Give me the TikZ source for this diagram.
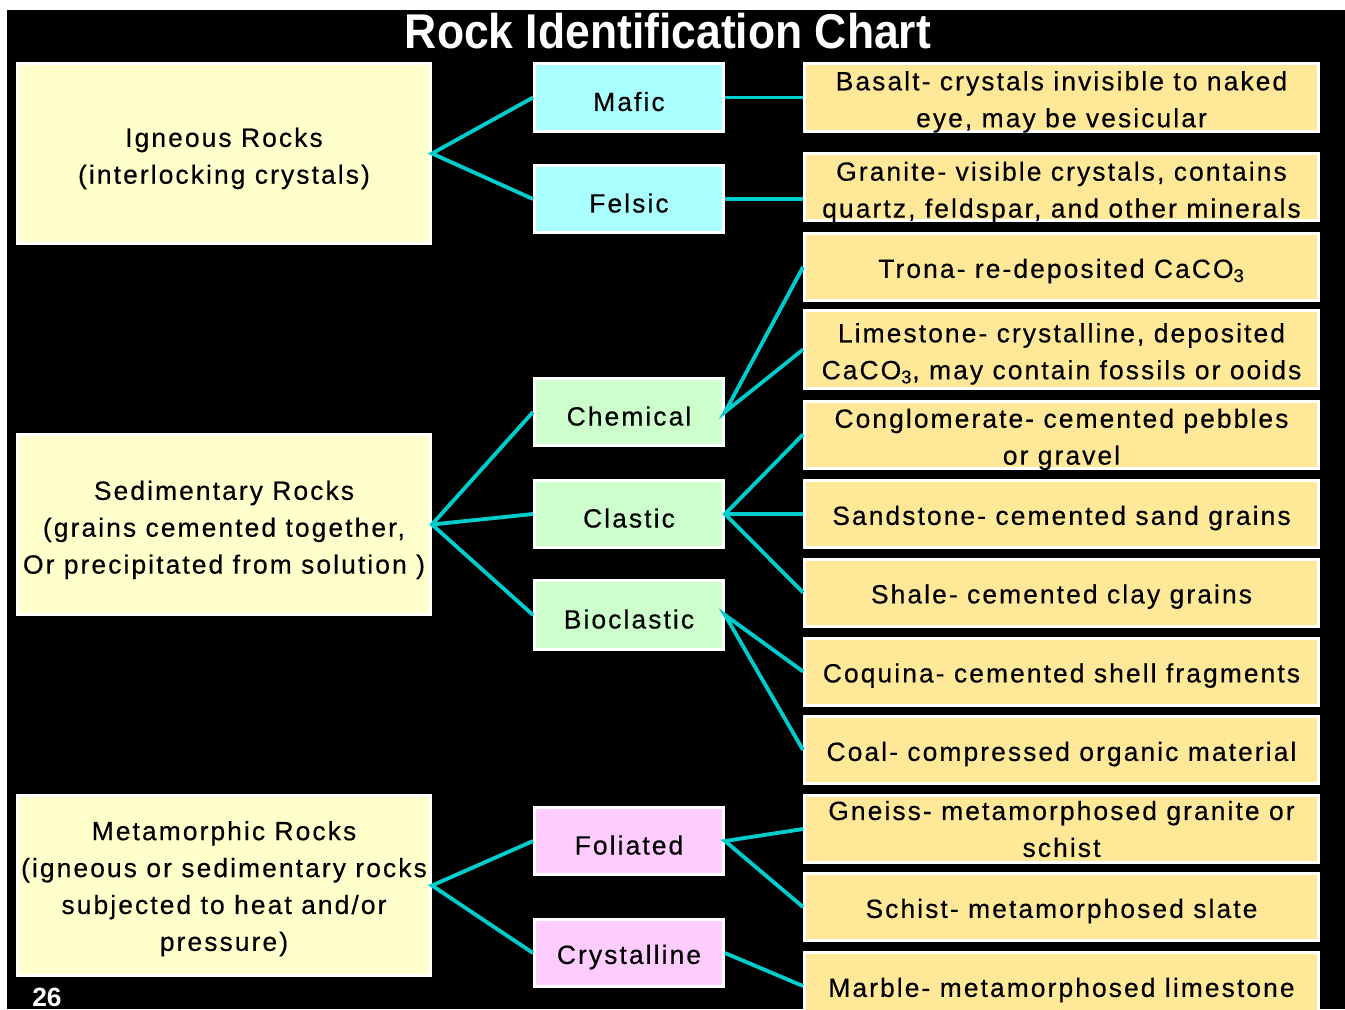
\documentclass[tikz,border=0pt]{standalone}
\usepackage{fontspec}
\setmainfont{Liberation Sans}[LetterSpace=8,FakeBold=0.5]
\newfontfamily\titlefont{Liberation Sans}
\usetikzlibrary{positioning}
\definecolor{rockcream}{RGB}{255,255,204}
\definecolor{maficcyan}{RGB}{170,255,255}
\definecolor{sedgreen}{RGB}{204,255,204}
\definecolor{metpink}{RGB}{255,204,255}
\definecolor{descyellow}{RGB}{255,233,153}
\definecolor{linkcyan}{RGB}{0,204,204}

\begin{document}
\begin{tikzpicture}[
  x=0.02cm,y=-0.02cm,
  every node/.style={font=\fontsize{15}{21}\selectfont,text=black},
  topgap/.style={execute at begin node={\rule{0pt}{#1}}},
  twoline/.style={text depth=0pt,inner ysep=1pt,topgap=#1},
  boxbase/.style={draw=white,line width=1.7pt,inner sep=2pt,align=center,topgap=15.5pt},
  rockbox/.style={boxbase,fill=rockcream,minimum width=8.26cm,minimum height=3.6cm},
  typebox/.style={boxbase,minimum width=3.78cm,minimum height=1.34cm},
  descbox/.style={boxbase,fill=descyellow,minimum width=10.28cm,minimum height=1.34cm},
  link/.style={draw=linkcyan,line width=2.2pt}]
%--- Frame ---
\fill[white] (0,0) rectangle (1345,1009);
\useasboundingbox (0,0) rectangle (1345,1009);
\fill[black] (7,10) rectangle (1345,1009);
\node[anchor=base,text=white,font=\titlefont\bfseries\fontsize{27.8}{30}\selectfont]
  (title) at (668,48) {\scalebox{0.91}[1]{Rock Identification Chart}};
\node[anchor=base,text=white,font=\titlefont\bfseries\fontsize{15}{18}\selectfont]
  (page) at (47,1006) {26};
%--- Rock groups ---
\node[rockbox,topgap=37.5pt] (ign) at (224,153.5) {Igneous Rocks\\(interlocking crystals)};
\node[rockbox,topgap=59pt] (sed) at (224,524.5) {Sedimentary Rocks\\(grains cemented together,\\Or precipitated from solution )};
\node[rockbox,topgap=77.5pt] (met) at (224,885.5) {Metamorphic Rocks\\(igneous or sedimentary rocks\\subjected to heat and/or\\pressure)};
%--- Types ---
\node[typebox,fill=maficcyan,minimum height=1.36cm] (mafic) at (629,97.5) {Mafic};
\node[typebox,fill=maficcyan] (felsic) at (629,199) {Felsic};
\node[typebox,fill=sedgreen] (chem) at (629,412) {Chemical};
\node[typebox,fill=sedgreen] (clast) at (629,514) {Clastic};
\node[typebox,fill=sedgreen,minimum height=1.38cm] (bio) at (629,615) {Bioclastic};
\node[typebox,fill=metpink] (fol) at (629,841) {Foliated};
\node[typebox,fill=metpink] (cryst) at (629,953) {Crystalline};
%--- Descriptions ---
\node[descbox,minimum height=1.36cm,twoline=33.8pt] (basalt) at (1061.5,97.5) {Basalt- crystals invisible to naked\\eye, may be vesicular};
\node[descbox,twoline=34.8pt] (granite) at (1061.5,187) {Granite- visible crystals, contains\\quartz, feldspar, and other minerals};
\node[descbox] (trona) at (1061.5,267) {Trona- re-deposited CaCO\textsubscript{3}};
\node[descbox,minimum height=1.56cm,twoline=33.8pt] (lime) at (1061.5,349.5) {Limestone- crystalline, deposited\\CaCO\textsubscript{3}, may contain fossils or ooids};
\node[descbox,twoline=34.3pt] (congl) at (1061.5,434.5) {Conglomerate- cemented pebbles\\or gravel};
\node[descbox] (sand) at (1061.5,514) {Sandstone- cemented sand grains};
\node[descbox] (shale) at (1061.5,592.5) {Shale- cemented clay grains};
\node[descbox] (coq) at (1061.5,671.5) {Coquina- cemented shell fragments};
\node[descbox] (coal) at (1061.5,750) {Coal- compressed organic material};
\node[descbox] (gneiss) at (1061.5,829) {Gneiss- metamorphosed granite or\\schist};
\node[descbox] (schist) at (1061.5,907) {Schist- metamorphosed slate};
\node[descbox] (marble) at (1061.5,986) {Marble- metamorphosed limestone};
%--- Links ---
\draw[link] (mafic.west)--(ign.east)--(felsic.west);
\draw[link] (chem.west)--(sed.east)--(bio.west);
\draw[link] (sed.east)--(clast.west);
\draw[link] (fol.west)--(met.east)--(cryst.west);
\draw[link] (mafic.east)--(basalt.west);
\draw[link] (felsic.east)--(felsic.east -| granite.west);
\draw[link] (trona.west)--(chem.east)--(lime.west);
\draw[link] (congl.west)--(clast.east)--(shale.west);
\draw[link] (clast.east)--(sand.west);
\draw[link] (coq.west)--(bio.east)--(coal.west);
\draw[link] (gneiss.west)--(fol.east)--(schist.west);
\draw[link] (cryst.east)--(marble.west);
\end{tikzpicture}
\end{document}
